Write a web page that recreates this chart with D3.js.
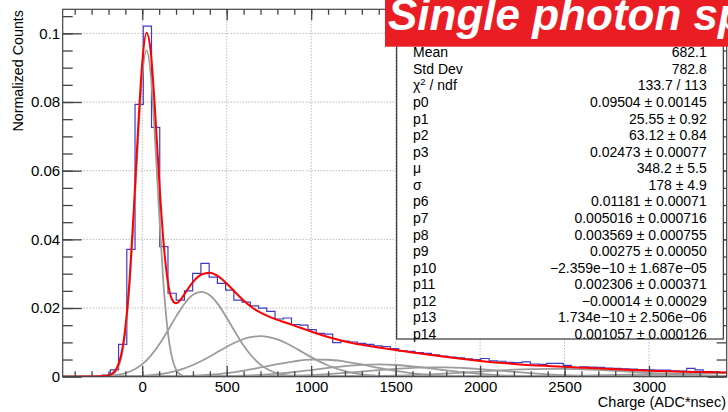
<!DOCTYPE html>
<html>
<head>
<meta charset="utf-8">
<script src="https://cdn.jsdelivr.net/npm/d3@7"></script>
<style>
    body { margin: 0; background: #fff; }
    svg { display: block; font-family: "Liberation Sans", Arial, Helvetica, sans-serif; }
</style>
</head>
<body>
<svg id="chart" width="728" height="412"></svg>
<script>
// ---- data ----

// histogram: bins of equal width, first bin starts at binLow
const binLow = -481.5;
const binWidth = 48.75;
const counts = [
    0, 0, 0, 0, 0, 0.0005, 0.002, 0.0094, 0.0371, 0.0793,
    0.1021, 0.0726, 0.0379, 0.0243, 0.0223, 0.025, 0.0301, 0.033, 0.029, 0.0272,
    0.0252, 0.0223, 0.0217, 0.0206, 0.0200, 0.0190, 0.0168, 0.0171, 0.0152, 0.0150,
    0.0137, 0.0126, 0.0124, 0.0099, 0.0104, 0.0101, 0.0097, 0.0094, 0.0090, 0.0088,
    0.0082, 0.0075, 0.0074, 0.0070, 0.0068, 0.0064, 0.0060, 0.0057, 0.0055, 0.0052,
    0.0050, 0.0053, 0.0046, 0.0045, 0.0042, 0.0041, 0.0043, 0.0037, 0.0036, 0.0039,
    0.0039, 0.0033, 0.0026, 0.0029, 0.0028, 0.0027, 0.0025, 0.0024, 0.0023, 0.0022,
    0.0021, 0.0020, 0.0019, 0.0019, 0.0017, 0.0016, 0.0024, 0.0020, 0.0015, 0.0014,
    0.0013
];

// total fit (red)
const fitX = [-470, -300, -250, -225, -200, -175, -150, -125, -100, -75, -50, -25, 0, 25, 50, 75,
    100, 125, 150, 175, 200, 225, 250, 275, 300, 350, 400, 450, 500, 550, 600, 650, 700, 750,
    800, 850, 900, 950, 1000, 1100, 1200, 1300, 1400, 1500, 1600, 1700, 1800, 1900, 2000,
    2200, 2400, 2600, 2800, 3000, 3200, 3400, 3460];
const fitY = [0, 0.000033, 0.000104, 0.000189, 0.000396, 0.000969, 0.002523, 0.006311, 0.014273,
    0.028294, 0.048611, 0.07192, 0.091484, 0.100154, 0.094716, 0.078131, 0.057531, 0.0397,
    0.028123, 0.022647, 0.0214, 0.022314, 0.024062, 0.025917, 0.02756, 0.029761, 0.030258,
    0.029216, 0.027128, 0.024613, 0.022185, 0.020166, 0.018632, 0.017484, 0.016566, 0.015729,
    0.014888, 0.014022, 0.013149, 0.011542, 0.010261, 0.009285, 0.00849, 0.007768, 0.007071,
    0.006385, 0.005731, 0.005123, 0.004589, 0.003731, 0.003125, 0.002631, 0.002162, 0.001755,
    0.001457, 0.001265, 0.001217];

// fit components (grey), [charge, counts]
const pedestal = [[-470, 0], [-300, 0], [-250, 0.000007], [-225, 0.000036], [-200, 0.00016],
    [-175, 0.00061], [-150, 0.00199], [-125, 0.00553], [-100, 0.01315], [-75, 0.02672],
    [-50, 0.04643], [-25, 0.06897], [0, 0.08756], [25, 0.09504], [50, 0.08817], [75, 0.06992],
    [100, 0.04741], [125, 0.02747], [150, 0.01361], [175, 0.00576], [200, 0.00209],
    [225, 0.00065], [250, 0.00017], [275, 0.00004], [300, 0.000007], [350, 0], [3460, 0]];
const pe1 = [[-470, 0], [-300, 0.000033], [-250, 0.000087], [-200, 0.000215], [-150, 0.000492],
    [-100, 0.001039], [-50, 0.002026], [0, 0.003651], [50, 0.006081], [100, 0.009358],
    [150, 0.01331], [200, 0.01749], [250, 0.02124], [300, 0.02384], [350, 0.02473],
    [400, 0.02371], [450, 0.021], [500, 0.01719], [550, 0.01301], [600, 0.009093],
    [650, 0.005876], [700, 0.003509], [750, 0.001936], [800, 0.000987], [850, 0.000465],
    [900, 0.000203], [1000, 0.00003], [1100, 0.000003], [1200, 0], [3460, 0]];
const pe2 = [[-470, 0], [-300, 0.000005], [-200, 0.000021], [-100, 0.000079], [0, 0.000257],
    [50, 0.000437], [100, 0.000712], [150, 0.001119], [200, 0.001689], [250, 0.002449],
    [300, 0.003417], [350, 0.004581], [400, 0.005903], [450, 0.007314], [500, 0.00871],
    [550, 0.009971], [600, 0.010975], [650, 0.01161], [700, 0.01181], [750, 0.011545],
    [800, 0.010851], [850, 0.009803], [900, 0.008515], [950, 0.007108], [1000, 0.005705],
    [1100, 0.003266], [1200, 0.001596], [1300, 0.000666], [1400, 0.000237], [1500, 0.000072],
    [1600, 0.000019], [1700, 0.000004], [1800, 0], [3460, 0]];
const pe3 = [[-470, 0], [-200, 0.000002], [-100, 0.000005], [0, 0.000016], [100, 0.000046],
    [200, 0.000118], [300, 0.000271], [400, 0.000563], [500, 0.001053], [600, 0.001773],
    [700, 0.002686], [800, 0.003662], [900, 0.004494], [1000, 0.004964], [1100, 0.004936],
    [1200, 0.004418], [1300, 0.003559], [1400, 0.002581], [1500, 0.001685], [1600, 0.00099],
    [1700, 0.000524], [1800, 0.000249], [1900, 0.000107], [2000, 0.000041], [2200, 0.000005],
    [2400, 0], [3460, 0]];
const pe4 = [[-470, 0], [0, 0.000002], [200, 0.000013], [400, 0.000073], [500, 0.000154],
    [600, 0.000299], [700, 0.000537], [800, 0.000893], [900, 0.001369], [1000, 0.001942],
    [1100, 0.002545], [1200, 0.003082], [1300, 0.00345], [1400, 0.003568], [1500, 0.003411],
    [1600, 0.003013], [1700, 0.002459], [1800, 0.001856], [1900, 0.001293], [2000, 0.000833],
    [2200, 0.000273], [2400, 0.000065], [2600, 0.000011], [2800, 0.000001], [3000, 0], [3460, 0]];
const pe5 = [[-470, 0], [400, 0.000009], [500, 0.000021], [600, 0.000045], [700, 0.00009],
    [800, 0.000168], [900, 0.000295], [1000, 0.000486], [1100, 0.000752], [1200, 0.001092],
    [1300, 0.001488], [1400, 0.001905], [1500, 0.002289], [1600, 0.002583], [1700, 0.002736],
    [1800, 0.00272], [1900, 0.002539], [2000, 0.002225], [2100, 0.001831], [2200, 0.001414],
    [2400, 0.000698], [2600, 0.000268], [2800, 0.00008], [3000, 0.000019], [3200, 0.000003],
    [3460, 0]];
const pe6 = [[-470, 0], [3460, 0]];
const pe7 = [[-470, 0], [800, 0.000006], [1000, 0.000022], [1200, 0.000073], [1400, 0.000204],
    [1500, 0.000318], [1600, 0.000474], [1700, 0.000677], [1800, 0.000922], [1900, 0.001203],
    [2000, 0.001498], [2100, 0.001784], [2200, 0.002031], [2300, 0.00221], [2400, 0.002299],
    [2500, 0.002286], [2600, 0.002173], [2700, 0.001974], [2800, 0.001714], [2900, 0.001423],
    [3000, 0.00113], [3100, 0.000857], [3200, 0.000622], [3300, 0.000431], [3400, 0.000285],
    [3460, 0.000218]];
const pe8 = [[-470, 0], [1300, -0.000002], [1600, -0.000009], [1800, -0.000021], [2000, -0.000042],
    [2200, -0.000071], [2400, -0.000104], [2600, -0.000131], [2800, -0.00014], [3000, -0.000127],
    [3200, -0.0001], [3400, -0.000066], [3460, -0.000057]];
const pe9 = [[-470, 0], [3460, 0]];
const pe10 = [[-470, 0], [1500, 0.000002], [1800, 0.000012], [2000, 0.000033], [2200, 0.000079],
    [2400, 0.000167], [2600, 0.00031], [2800, 0.000507], [3000, 0.000733], [3200, 0.000932],
    [3400, 0.001046], [3460, 0.001056]];
const components = [pedestal, pe1, pe2, pe3, pe4, pe5, pe6, pe7, pe8, pe9, pe10];

// axis ticks
const xMajorTicks = [0, 500, 1000, 1500, 2000, 2500, 3000];
const yMajorTicks = [0, 0.02, 0.04, 0.06, 0.08, 0.1];

// stat box
const statLabels = ['Mean', 'Std Dev', 'chi2', 'p0', 'p1', 'p2', 'p3', 'μ', 'σ', 'p6', 'p7', 'p8',
    'p9', 'p10', 'p11', 'p12', 'p13', 'p14'];
const statValues = ['682.1', '782.8', '133.7 / 113', '0.09504 ± 0.00145', '25.55 ± 0.92',
    '63.12 ± 0.84', '0.02473 ± 0.00077', '348.2 ± 5.5', '178 ± 4.9', '0.01181 ± 0.00071',
    '0.005016 ± 0.000716', '0.003569 ± 0.000755', '0.00275 ± 0.00050',
    '−2.359e−10 ± 1.687e−05', '0.002306 ± 0.000371', '−0.00014 ± 0.00029',
    '1.734e−10 ± 2.506e−06', '0.001057 ± 0.000126'];

const titleText = 'Single photon spectrum';

// ---- layout ----
const frame = { left: 62.7, right: 726.7, top: 9.3, bottom: 376.7 };
const svg = d3.select('#chart');

const x = d3.scaleLinear().domain([-471, 3460]).range([frame.left, frame.right]);
const y = d3.scaleLinear().domain([0, 0.107]).range([frame.bottom, frame.top]);

svg.append('defs').append('clipPath')
    .attr('id', 'frame-clip')
    .append('rect')
    .attr('x', frame.left)
    .attr('y', frame.top)
    .attr('width', frame.right - frame.left)
    .attr('height', frame.bottom - frame.top);

// Grid (dotted)
const grid = svg.append('g').attr('class', 'grid');
grid.selectAll('.gx')
    .data(xMajorTicks)
    .join('line')
    .attr('x1', d => x(d)).attr('x2', d => x(d))
    .attr('y1', frame.top).attr('y2', frame.bottom)
    .attr('stroke', '#9a9a9a')
    .attr('stroke-dasharray', '1,2');
grid.selectAll('.gy')
    .data(yMajorTicks.filter(d => d > 0))
    .join('line')
    .attr('x1', frame.left).attr('x2', frame.right)
    .attr('y1', d => y(d)).attr('y2', d => y(d))
    .attr('stroke', '#9a9a9a')
    .attr('stroke-dasharray', '1,2');

const plot = svg.append('g').attr('clip-path', 'url(#frame-clip)');

// Histogram outline
const histPoints = [[binLow, 0]];
counts.forEach((c, i) => {
    const x0 = binLow + i * binWidth;
    histPoints.push([x0, c], [x0 + binWidth, c]);
});
histPoints.push([binLow + counts.length * binWidth, 0]);

plot.append('path')
    .datum(histPoints)
    .attr('fill', 'none')
    .attr('stroke', '#3c3cc4')
    .attr('stroke-width', 1.2)
    .attr('d', d3.line().x(d => x(d[0])).y(d => y(d[1])));

// Fit components
const compLine = d3.line()
    .x(d => x(d[0]))
    .y(d => y(Math.max(d[1], 0)))
    .curve(d3.curveMonotoneX);

plot.selectAll('.component')
    .data(components)
    .join('path')
    .attr('class', 'component')
    .attr('fill', 'none')
    .attr('stroke', '#9c9c9c')
    .attr('stroke-width', 1.8)
    .attr('d', compLine);

// Total fit
plot.append('path')
    .datum(fitX.map((v, i) => [v, fitY[i]]))
    .attr('fill', 'none')
    .attr('stroke', '#ff0000')
    .attr('stroke-width', 2)
    .attr('d', compLine);

// Frame
svg.append('rect')
    .attr('x', frame.left)
    .attr('y', frame.top)
    .attr('width', frame.right - frame.left)
    .attr('height', frame.bottom - frame.top)
    .attr('fill', 'none')
    .attr('stroke', '#444')
    .attr('stroke-width', 1.2);

// Axes (ROOT style: ticks point inside, mirrored on top/right)
function styleAxis(g) {
    g.select('.domain').remove();
    g.selectAll('.tick line').attr('stroke', '#444').attr('stroke-width', 1.3);
    g.selectAll('.tick text')
        .attr('fill', '#000')
        .style('font-size', '15px')
        .style('font-family', '"Liberation Sans", Arial, sans-serif');
}

svg.append('g')
    .attr('transform', `translate(0,${frame.bottom})`)
    .call(d3.axisBottom(x).tickValues(xMajorTicks).tickSize(-11).tickSizeOuter(0).tickPadding(4.5)
        .tickFormat(d3.format('d')))
    .call(styleAxis);
svg.append('g')
    .attr('transform', `translate(0,${frame.bottom})`)
    .call(d3.axisBottom(x).tickValues(d3.range(-400, 3401, 100)).tickSize(-5.5).tickFormat(''))
    .call(styleAxis);
svg.append('g')
    .attr('transform', `translate(0,${frame.top})`)
    .call(d3.axisTop(x).tickValues(xMajorTicks).tickSize(-11).tickFormat(''))
    .call(styleAxis);
svg.append('g')
    .attr('transform', `translate(0,${frame.top})`)
    .call(d3.axisTop(x).tickValues(d3.range(-400, 3401, 100)).tickSize(-5.5).tickFormat(''))
    .call(styleAxis);

svg.append('g')
    .attr('transform', `translate(${frame.left},0)`)
    .call(d3.axisLeft(y).tickValues(yMajorTicks).tickSize(-19).tickSizeOuter(0).tickPadding(2.5)
        .tickFormat(d3.format('~g')))
    .call(styleAxis);
svg.append('g')
    .attr('transform', `translate(${frame.left},0)`)
    .call(d3.axisLeft(y).tickValues(d3.range(0.005, 0.106, 0.005)).tickSize(-10).tickFormat(''))
    .call(styleAxis);
svg.append('g')
    .attr('transform', `translate(${frame.right},0)`)
    .call(d3.axisRight(y).tickValues(yMajorTicks).tickSize(-19).tickFormat(''))
    .call(styleAxis);
svg.append('g')
    .attr('transform', `translate(${frame.right},0)`)
    .call(d3.axisRight(y).tickValues(d3.range(0.005, 0.106, 0.005)).tickSize(-10).tickFormat(''))
    .call(styleAxis);

// Axis titles
svg.append('text')
    .attr('x', 726)
    .attr('y', 407)
    .attr('text-anchor', 'end')
    .style('font-size', '14.5px')
    .text('Charge (ADC*nsec)');

svg.append('text')
    .attr('transform', 'translate(22.5,10) rotate(-90)')
    .attr('text-anchor', 'end')
    .style('font-size', '14.3px')
    .text('Normalized Counts');

// Stat box
const statBox = svg.append('g');
statBox.append('rect')
    .attr('x', 396.7)
    .attr('y', 10)
    .attr('width', 326.6)
    .attr('height', 329)
    .attr('fill', '#fff')
    .attr('stroke', '#222')
    .attr('stroke-width', 1.1);

const rows = statBox.selectAll('.stat-row')
    .data(statLabels)
    .join('g')
    .attr('class', 'stat-row')
    .attr('transform', (d, i) => `translate(0,${52.3 + i * 16.57 + 5})`)
    .style('font-size', '14px');

rows.append('text')
    .attr('x', 413)
    .each(function (d) {
        const t = d3.select(this);
        if (d === 'chi2') {
            t.append('tspan').text('χ');
            t.append('tspan').attr('dy', -5).style('font-size', '9.5px').text('2');
            t.append('tspan').attr('dy', 5).text(' / ndf');
        } else {
            t.text(d);
        }
    });

rows.append('text')
    .attr('x', 706.7)
    .attr('text-anchor', 'end')
    .text((d, i) => statValues[i]);

// Title banner (runs off the right edge, as in the original)
svg.append('rect')
    .attr('x', 385)
    .attr('y', -2)
    .attr('width', 350)
    .attr('height', 48.7)
    .attr('fill', '#ea1c24');

svg.append('text')
    .attr('x', 388)
    .attr('y', 30)
    .attr('fill', '#fff')
    .style('font-size', '44px')
    .style('font-weight', 'bold')
    .style('font-style', 'italic')
    .text(titleText);
</script>
</body>
</html>
